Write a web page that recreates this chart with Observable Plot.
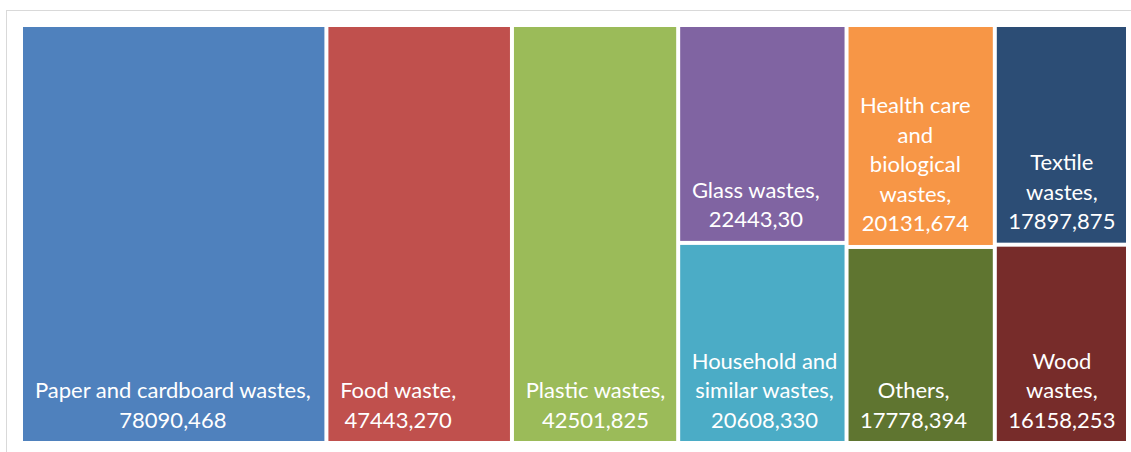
<!DOCTYPE html>
<html><head><meta charset="utf-8">
<script src="https://cdn.jsdelivr.net/npm/d3@7"></script>
<script src="https://cdn.jsdelivr.net/npm/@observablehq/plot@0.6"></script>
<style>
html,body{margin:0;padding:0;background:#fff;overflow:hidden;width:1131px;height:452px}
#chart{position:relative;width:1131px;height:452px;overflow:hidden}
#frame{position:absolute;left:6px;top:10px;width:1300px;height:700px;border:1px solid #d9d9d9;box-sizing:border-box;pointer-events:none}
#chart svg{position:absolute;left:0;top:0}
</style></head><body>
<div id="chart"><div id="frame"></div></div>
<script>
const categories = ["Paper and cardboard wastes","Food waste","Plastic wastes","Glass wastes","Household and similar wastes","Health care and biological wastes","Others","Textile wastes","Wood wastes"];
const values = [78090.468,47443.270,42501.825,22443.30,20608.330,20131.674,17778.394,17897.875,16158.253];
const valueLabels = ["78090,468","47443,270","42501,825","22443,30","20608,330","20131,674","17778,394","17897,875","16158,253"];
const columnGroup = [0,1,2,3,3,4,4,5,5];
const colors = ["#4F81BD","#C0504D","#9BBB59","#8064A2","#4BACC6","#F79646","#5F7530","#2C4D75","#772C2A"];

async function draw() {
  const FONT = "Lato", FS = 22;
  try { await document.fonts.load(`${FS}px ${FONT}`); } catch (e) {}
  const W = 1131, H = 452, mL = 21, mR = 3, mT = 25, mB = 9, inset = 2, pad = 11;
  const total = d3.sum(values);
  const cells = [];
  let x0 = 0;
  for (const [g, idx] of d3.groups(d3.range(values.length), i => columnGroup[i])) {
    const colSum = d3.sum(idx, i => values[i]);
    let y0 = 0;
    for (const i of idx) {
      cells.push({i, name: categories[i], x1: x0, x2: x0 + colSum, y1: y0 / colSum, y2: (y0 + values[i]) / colSum});
      y0 += values[i];
    }
    x0 += colSum;
  }
  const xs = Plot.scale({x: {domain: [0, total], range: [mL, W - mR]}});
  const ctx = document.createElement("canvas").getContext("2d");
  ctx.font = `${FS}px ${FONT}`;
  const mw = s => ctx.measureText(s).width;
  for (const c of cells) {
    const left = xs.apply(c.x1) + inset, right = xs.apply(c.x2) - inset;
    const avail = right - left - 2 * 8;
    const words = (c.name + ", " + valueLabels[c.i]).split(" ");
    const lines = [];
    let cur = "";
    for (const w of words) {
      const t = cur ? cur + " " + w : w;
      if (cur && mw(t) > avail) { lines.push(cur); cur = w; } else cur = t;
    }
    if (cur) lines.push(cur);
    const bw = d3.max(lines, mw);
    c.label = lines.join("\n");
    c.lx = xs.invert(left + pad + bw / 2);
  }
  const chart = Plot.plot({
    width: W, height: H,
    marginLeft: mL, marginRight: mR, marginTop: mT, marginBottom: mB,
    x: {domain: [0, total], axis: null},
    y: {domain: [0, 1], reverse: true, axis: null},
    color: {domain: categories, range: colors},
    style: {background: "transparent"},
    marks: [
      Plot.rect(cells, {x1: "x1", x2: "x2", y1: "y1", y2: "y2", fill: "name", inset}),
      Plot.text(cells, {x: "lx", y: "y2", text: "label", textAnchor: "middle", lineAnchor: "bottom", dy: -16,
        fill: "white", fontSize: FS, fontFamily: FONT, lineHeight: 29.5 / FS})
    ]
  });
  document.getElementById("chart").appendChild(chart);
}
draw();
</script>
</body></html>
